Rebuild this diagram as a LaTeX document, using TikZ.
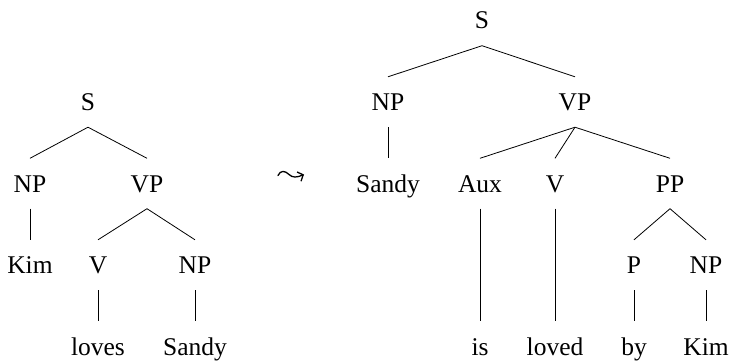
\documentclass[tikz,border=0pt]{standalone}
\usepackage{fontspec}
\setmainfont{Liberation Serif}
\usetikzlibrary{arrows.meta}
\begin{document}
\begin{tikzpicture}[x=1pt,y=-1pt,
  lab/.style={inner xsep=0pt, inner ysep=16.5pt, text height=17pt, text depth=0pt, font=\fontsize{25.5}{30}\selectfont},
  edge/.style={line width=0.8pt},
  wave/.style={line width=1.3pt, line cap=round, -{Straight Barb[length=4.5pt,width=10pt,line width=1.3pt]}}]
\useasboundingbox (0,0) rectangle (730,361);
% left tree
\node[lab] (lS) at (88,102) {S};
\node[lab] (lNP) at (30,183.5) {NP};
\node[lab] (lVP) at (147,183.5) {VP};
\node[lab] (lKim) at (30,265) {Kim};
\node[lab] (lV) at (98,265) {V};
\node[lab] (lNP2) at (195,265) {NP};
\node[lab] (lloves) at (98,346.5) {loves};
\node[lab] (lSandy) at (195,346.5) {Sandy};
\draw[edge] (lS.south) -- (lNP.north);
\draw[edge] (lS.south) -- (lVP.north);
\draw[edge] (lNP.south) -- (lKim.north);
\draw[edge] (lVP.south) -- (lV.north);
\draw[edge] (lVP.south) -- (lNP2.north);
\draw[edge] (lV.south) -- (lloves.north);
\draw[edge] (lNP2.south) -- (lSandy.north);
% leads-to arrow
\coordinate (wa) at (278,175.5);
\coordinate (wb) at (304,174.5);
\draw[wave] (wa) .. controls (280.5,170) and (285,170.5) .. (289,174.5)
  .. controls (292.5,178) and (297,177.5) .. (wb);
% right tree
\node[lab] (rS) at (482,20.5) {S};
\node[lab] (rNP) at (388,102) {NP};
\node[lab] (rVP) at (575,102) {VP};
\node[lab] (rSandy) at (388,183.5) {Sandy};
\node[lab] (rAux) at (480,183.5) {Aux};
\node[lab] (rV) at (555,183.5) {V};
\node[lab] (rPP) at (670,183.5) {PP};
\node[lab] (rP) at (634,265) {P};
\node[lab] (rNP2) at (706,265) {NP};
\node[lab] (ris) at (480,346.5) {is};
\node[lab] (rloved) at (555,346.5) {loved};
\node[lab] (rby) at (634,346.5) {by};
\node[lab] (rKim) at (706,346.5) {Kim};
\draw[edge] (rS.south) -- (rNP.north);
\draw[edge] (rS.south) -- (rVP.north);
\draw[edge] (rNP.south) -- (rSandy.north);
\draw[edge] (rVP.south) -- (rAux.north);
\draw[edge] (rVP.south) -- (rV.north);
\draw[edge] (rVP.south) -- (rPP.north);
\draw[edge] (rAux.south) -- (ris.north);
\draw[edge] (rV.south) -- (rloved.north);
\draw[edge] (rPP.south) -- (rP.north);
\draw[edge] (rPP.south) -- (rNP2.north);
\draw[edge] (rP.south) -- (rby.north);
\draw[edge] (rNP2.south) -- (rKim.north);
\end{tikzpicture}
\end{document}
